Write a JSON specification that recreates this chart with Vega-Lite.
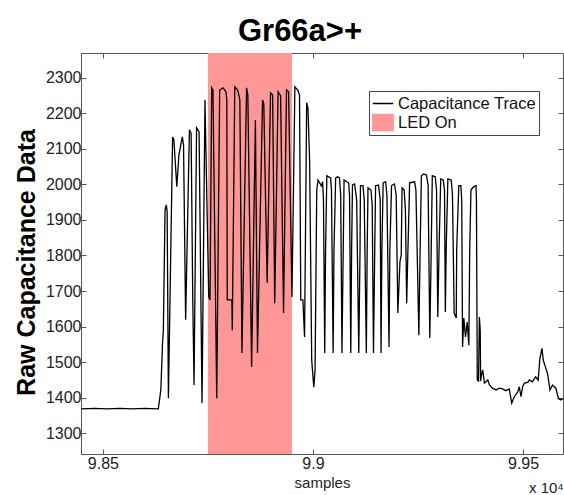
{
  "$schema": "https://vega.github.io/schema/vega-lite/v6.json",
  "width": 482,
  "height": 401,
  "autosize": {"type": "none"},
  "padding": {"left": 81, "top": 53, "right": 1, "bottom": 41},
  "background": "white",
  "title": {"text": "Gr66a>+", "fontSize": 31, "fontWeight": "bold", "color": "black", "font": "Liberation Sans", "dx": -22, "offset": 5},
  "config": {
    "font": "Liberation Sans",
    "view": {"stroke": "#555555", "strokeWidth": 1},
    "axis": {"grid": false, "domainColor": "#555555", "tickColor": "#555555", "labelColor": "#222222", "titleColor": "#000000", "labelFont": "Liberation Sans", "titleFont": "Liberation Sans", "labelFlush": false, "labelOverlap": false}
  },
  "layer": [
    {
      "data": {"values": [{"start": 98750, "end": 98950}]},
      "mark": {"type": "rect", "opacity": 1},
      "encoding": {
        "x": {"field": "start", "type": "quantitative", "scale": {"domain": [98448, 99595], "nice": false, "zero": false},
              "axis": {"orient": "top", "labels": false, "title": null, "values": [98500, 99000, 99500], "tickSize": -5, "domain": false}},
        "x2": {"field": "end"},
        "color": {"datum": "LED On", "type": "nominal",
          "scale": {"domain": ["Capacitance Trace", "LED On"], "range": ["#000000", "#ff9797"]},
          "legend": {
            "title": null, "orient": "none", "legendX": 288, "legendY": 38,
            "fillColor": "white", "strokeColor": "#444444", "padding": 3,
            "labelFontSize": 16.5, "labelColor": "#111111", "labelFont": "Liberation Sans", "labelOffset": 4,
            "symbolSize": 420, "rowPadding": 0, "clipHeight": 19,
            "symbolType": {"expr": "datum.value === 'LED On' ? 'M-1,-0.8H1V0.8H-1Z' : 'stroke'"},
            "symbolStrokeColor": {"expr": "datum.value === 'LED On' ? 'transparent' : '#000000'"},
            "symbolStrokeWidth": 1.3,
            "symbolOpacity": 1
          }}
      }
    },
    {
      "data": {"values": [
        {"s":98449,"v":1369},{"s":98480,"v":1370},{"s":98510,"v":1369},{"s":98540,"v":1370},{"s":98570,"v":1369},{"s":98600,"v":1370},{"s":98632,"v":1369},
        {"s":98638,"v":1422},{"s":98642,"v":1554},{"s":98644,"v":1590},{"s":98648,"v":1928},{"s":98651,"v":1942},{"s":98653,"v":1922},{"s":98656,"v":1399},
        {"s":98666,"v":2133},{"s":98669,"v":2125},{"s":98676,"v":1993},{"s":98681,"v":2083},{"s":98689,"v":2133},{"s":98692,"v":2111},{"s":98697,"v":1619},
        {"s":98706,"v":2153},{"s":98710,"v":2144},{"s":98714,"v":1675},{"s":98717,"v":1436},{"s":98723,"v":2159},{"s":98729,"v":2147},{"s":98736,"v":1385},
        {"s":98743,"v":2237},{"s":98752,"v":1683},{"s":98755,"v":1675},{"s":98759,"v":2271},{"s":98762,"v":2265},{"s":98771,"v":1399},
        {"s":98778,"v":2265},{"s":98786,"v":2271},{"s":98793,"v":2260},{"s":98795,"v":2237},{"s":98796,"v":1675},{"s":98807,"v":1675},{"s":98808,"v":1590},
        {"s":98814,"v":2274},{"s":98821,"v":2265},{"s":98826,"v":2237},{"s":98831,"v":1526},{"s":98842,"v":2271},{"s":98845,"v":2251},{"s":98854,"v":1487},
        {"s":98863,"v":2181},{"s":98868,"v":1526},{"s":98880,"v":2237},{"s":98883,"v":2226},{"s":98891,"v":1723},{"s":98899,"v":2257},{"s":98904,"v":2251},
        {"s":98909,"v":1666},{"s":98917,"v":2260},{"s":98923,"v":2249},{"s":98930,"v":1638},{"s":98937,"v":2265},{"s":98942,"v":2260},{"s":98950,"v":1683},
        {"s":98957,"v":2274},{"s":98964,"v":2265},{"s":98968,"v":2251},{"s":98971,"v":1675},{"s":98976,"v":1675},{"s":98980,"v":1571},{"s":98985,"v":2229},
        {"s":98988,"v":2215},{"s":98992,"v":2069},{"s":98997,"v":1506},{"s":99002,"v":1430},{"s":99005,"v":1478},{"s":99009,"v":1984},{"s":99012,"v":2012},
        {"s":99016,"v":2004},{"s":99020,"v":1995},{"s":99023,"v":2007},{"s":99025,"v":1956},{"s":99028,"v":1526},{"s":99030,"v":1816},{"s":99033,"v":2024},
        {"s":99037,"v":2021},{"s":99042,"v":2018},{"s":99044,"v":1984},{"s":99048,"v":1526},{"s":99050,"v":1816},{"s":99054,"v":2018},{"s":99059,"v":2021},
        {"s":99063,"v":2018},{"s":99066,"v":1970},{"s":99069,"v":1526},{"s":99072,"v":1816},{"s":99074,"v":2012},{"s":99080,"v":2007},{"s":99085,"v":2004},
        {"s":99087,"v":1970},{"s":99090,"v":1526},{"s":99092,"v":1816},{"s":99094,"v":1998},{"s":99099,"v":2001},{"s":99101,"v":1984},{"s":99104,"v":1956},
        {"s":99109,"v":1526},{"s":99112,"v":1816},{"s":99113,"v":1996},{"s":99119,"v":1996},{"s":99122,"v":1956},{"s":99127,"v":1526},{"s":99129,"v":1816},
        {"s":99131,"v":1990},{"s":99138,"v":1984},{"s":99141,"v":1942},{"s":99144,"v":1526},{"s":99147,"v":1816},{"s":99149,"v":1996},{"s":99156,"v":1998},
        {"s":99160,"v":1956},{"s":99162,"v":1526},{"s":99164,"v":1816},{"s":99167,"v":2004},{"s":99173,"v":2007},{"s":99176,"v":1970},{"s":99181,"v":1543},
        {"s":99183,"v":1816},{"s":99187,"v":1996},{"s":99194,"v":2001},{"s":99198,"v":1970},{"s":99202,"v":1638},{"s":99207,"v":1782},{"s":99210,"v":1801},
        {"s":99212,"v":1990},{"s":99217,"v":1984},{"s":99220,"v":1928},{"s":99223,"v":1666},{"s":99226,"v":1816},{"s":99230,"v":2004},{"s":99242,"v":2007},
        {"s":99245,"v":1984},{"s":99252,"v":1576},{"s":99255,"v":1816},{"s":99258,"v":2024},{"s":99263,"v":2029},{"s":99270,"v":2026},{"s":99274,"v":1998},
        {"s":99278,"v":1568},{"s":99281,"v":1787},{"s":99284,"v":2024},{"s":99291,"v":2021},{"s":99294,"v":1984},{"s":99297,"v":1627},{"s":99300,"v":1816},
        {"s":99304,"v":2015},{"s":99310,"v":2012},{"s":99313,"v":1984},{"s":99315,"v":1641},{"s":99317,"v":1816},{"s":99321,"v":2015},{"s":99329,"v":2012},
        {"s":99332,"v":1970},{"s":99336,"v":1638},{"s":99341,"v":1624},{"s":99342,"v":1816},{"s":99347,"v":1996},{"s":99352,"v":1996},{"s":99354,"v":1956},
        {"s":99356,"v":1543},{"s":99359,"v":1624},{"s":99363,"v":1571},{"s":99367,"v":1613},{"s":99371,"v":1548},{"s":99373,"v":1816},{"s":99376,"v":1984},
        {"s":99382,"v":1993},{"s":99388,"v":1996},{"s":99389,"v":1956},{"s":99391,"v":1450},{"s":99394,"v":1447},{"s":99396,"v":1627},{"s":99398,"v":1590},
        {"s":99399,"v":1447},{"s":99401,"v":1464},{"s":99404,"v":1478},{"s":99408,"v":1441},{"s":99416,"v":1450},{"s":99420,"v":1436},{"s":99427,"v":1427},
        {"s":99436,"v":1422},{"s":99443,"v":1427},{"s":99451,"v":1425},{"s":99459,"v":1420},{"s":99467,"v":1425},{"s":99473,"v":1385},{"s":99479,"v":1403},
        {"s":99487,"v":1416},{"s":99491,"v":1431},{"s":99495,"v":1403},{"s":99499,"v":1431},{"s":99503,"v":1441},{"s":99511,"v":1443},{"s":99515,"v":1450},
        {"s":99522,"v":1445},{"s":99530,"v":1459},{"s":99536,"v":1450},{"s":99540,"v":1511},{"s":99545,"v":1539},{"s":99548,"v":1506},{"s":99553,"v":1487},
        {"s":99558,"v":1469},{"s":99564,"v":1422},{"s":99570,"v":1436},{"s":99578,"v":1427},{"s":99584,"v":1398},{"s":99590,"v":1394},{"s":99595,"v":1398}
      ]},
      "mark": {"type": "line", "strokeWidth": 1.3, "interpolate": "linear"},
      "encoding": {
        "x": {"field": "s", "type": "quantitative", "sort": null,
              "axis": {"orient": "bottom", "values": [98500, 99000, 99500], "labelExpr": "format(datum.value / 10000, '.3~g')",
                       "title": "samples", "tickSize": -5, "labelFontSize": 16, "titleFontSize": 15, "titleFontWeight": "normal",
                       "titleColor": "#222222", "labelPadding": 6, "titlePadding": 4}},
        "y": {"field": "v", "type": "quantitative", "scale": {"domain": [1242, 2369], "nice": false, "zero": false},
              "axis": {"orient": "left", "values": [1300, 1400, 1500, 1600, 1700, 1800, 1900, 2000, 2100, 2200, 2300], "format": "d",
                       "title": "Raw Capacitance Data", "tickSize": -5, "labelFontSize": 16, "labelPadding": 5,
                       "titleFontSize": 25, "titleFontWeight": "bold", "titlePadding": 6, "titleY": 209}},
        "order": {"field": "s", "type": "quantitative"},
        "color": {"datum": "Capacitance Trace", "type": "nominal"}
      }
    },
    {
      "data": {"values": [{"label": "x 10⁴"}]},
      "mark": {"type": "text", "align": "left", "baseline": "alphabetic", "fontSize": 15, "color": "#222222", "clip": false},
      "encoding": {
        "x": {"datum": 99514, "type": "quantitative", "axis": null},
        "y": {"datum": 1132, "type": "quantitative",
              "axis": {"orient": "right", "labels": false, "title": null, "values": [1300, 1400, 1500, 1600, 1700, 1800, 1900, 2000, 2100, 2200, 2300], "tickSize": -5, "domain": false}},
        "text": {"field": "label"}
      }
    }
  ],
  "resolve": {"axis": {"x": "independent", "y": "independent"}}
}
